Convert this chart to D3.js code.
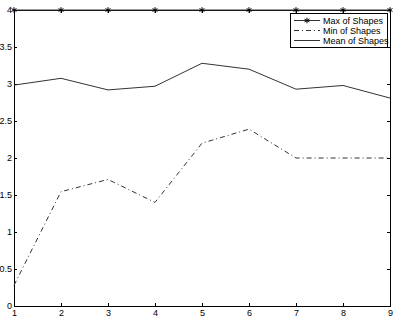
<html>
<head>
<meta charset="UTF-8"/>
<script src="https://d3js.org/d3.v7.min.js"></script>
<style>
body { margin: 0; background: #fff; }
text { font-family: 'Liberation Sans', Arial, sans-serif; font-size: 9px; fill: #000; }
.axis path, .axis line { stroke: #000; shape-rendering: crispEdges; }
.line { fill: none; stroke: #333; stroke-width: 1; }
</style>
</head>
<body>
<svg id='big' width=399 height=317></svg>
<script>
'use strict';

var xs = [1, 2, 3, 4, 5, 6, 7, 8, 9];
var maxShapes = [4, 4, 4, 4, 4, 4, 4, 4, 4];
var minShapes = [0.28, 1.545, 1.71, 1.4, 2.2, 2.39, 2.0, 2.0, 2.0];
var meanShapes = [2.985, 3.077, 2.92, 2.97, 3.28, 3.2, 2.93, 2.98, 2.81];
var yTicks = [0, 0.5, 1, 1.5, 2, 2.5, 3, 3.5, 4];
var seriesNames = ['Max of Shapes', 'Min of Shapes', 'Mean of Shapes'];

var svg = d3.select('#big');
var L = 14, R = 390, T = 10, B = 306;

var sx = d3.scaleLinear().domain([1, 9]).range([L, R]);
var sy = d3.scaleLinear().domain([0, 4]).range([B, T]);

// box
svg.append('rect')
.attr('x', L).attr('y', T)
.attr('width', R - L).attr('height', B - T)
.attr('fill', 'none').attr('stroke', '#000')
.attr('shape-rendering', 'crispEdges');

var xAxis = d3.axisBottom(sx).tickValues(xs).tickSize(-3).tickPadding(4).tickFormat(d3.format('d'));
var yAxis = d3.axisLeft(sy).tickValues(yTicks).tickSize(-3).tickPadding(2).tickFormat(function(d){ return d; });

svg.append('g').attr('class', 'axis').attr('transform', 'translate(0,' + B + ')').call(xAxis)
.select('.domain').remove();
svg.append('g').attr('class', 'axis').attr('transform', 'translate(' + L + ',0)').call(yAxis)
.select('.domain').remove();
// mirror ticks
svg.append('g').attr('class', 'axis').attr('transform', 'translate(0,' + T + ')')
.call(d3.axisTop(sx).tickValues(xs).tickSize(-3).tickFormat(''))
.select('.domain').remove();
svg.append('g').attr('class', 'axis').attr('transform', 'translate(' + R + ',0)')
.call(d3.axisRight(sy).tickValues(yTicks).tickSize(-3).tickFormat(''))
.select('.domain').remove();

var line = d3.line()
.x(function(d){ return sx(d[0]); })
.y(function(d){ return sy(d[1]); });

function pairs(vals){
	return xs.map(function(x, i){ return [x, vals[i]]; });
}

svg.append('path').attr('class', 'line').attr('d', line(pairs(maxShapes)));
svg.append('path').attr('class', 'line').attr('d', line(pairs(minShapes)))
.attr('stroke-dasharray', '5 3 1 3');
svg.append('path').attr('class', 'line').attr('d', line(pairs(meanShapes)));

var star = d3.symbol().type(d3.symbolAsterisk).size(22);
svg.selectAll('.star').data(pairs(maxShapes)).enter()
.append('path')
.attr('class', 'star')
.attr('d', star)
.attr('transform', function(d){ return 'translate(' + sx(d[0]) + ',' + sy(d[1]) + ')'; })
.attr('fill', 'none').attr('stroke', '#000').attr('stroke-width', 1);

// legend
var lg = svg.append('g').attr('transform', 'translate(290,13)');
lg.append('rect').attr('width', 97).attr('height', 34)
.attr('fill', '#fff').attr('stroke', '#000').attr('shape-rendering', 'crispEdges');
var dash = ['', '5 3 1 3', ''];
seriesNames.forEach(function(name, i){
	var y = 7.5 + i * 10;
	lg.append('line').attr('x1', 4).attr('x2', 30).attr('y1', y).attr('y2', y)
	.attr('stroke', '#333').attr('stroke-dasharray', dash[i] || null);
	if (i == 0) {
		lg.append('path').attr('d', star).attr('transform', 'translate(17,' + y + ')')
		.attr('fill', 'none').attr('stroke', '#000');
	}
	lg.append('text').attr('x', 33).attr('y', y).attr('dy', '0.35em').text(name);
});
</script>
</body>
</html>
